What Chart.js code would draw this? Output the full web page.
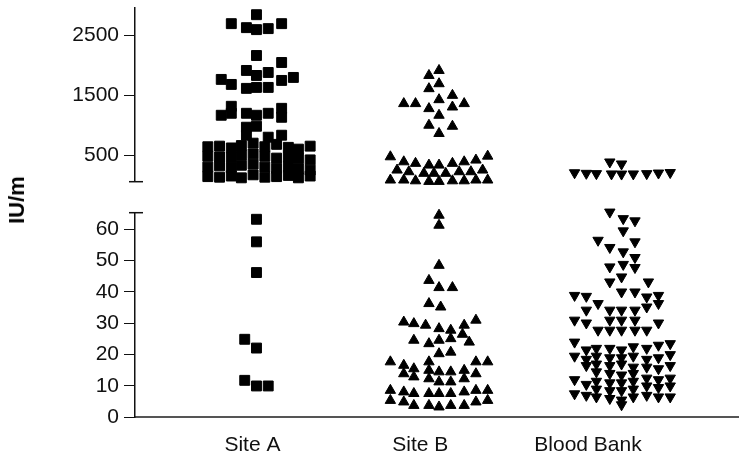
<!DOCTYPE html>
<html>
<head>
<meta charset="utf-8">
<script src="https://cdn.jsdelivr.net/npm/chart.js@4.4.1/dist/chart.umd.min.js"></script>
<style>
  html, body { margin: 0; padding: 0; background: #ffffff; }
  #wrap { position: relative; width: 746px; height: 459px; overflow: hidden; background: #fff; }
  #topBox { position: absolute; left: 0; top: 0; width: 746px; height: 200px; }
  #botBox { position: absolute; left: 0; top: 200px; width: 746px; height: 259px; }
  #ytitle {
    position: absolute; left: 17px; top: 200px;
    transform: translate(-50%, -50%) rotate(-90deg);
    font: bold 22px "Liberation Sans", Arial, Helvetica, sans-serif;
    color: #000; white-space: nowrap;
  }
</style>
</head>
<body>
<div id="wrap">
  <div id="topBox"><canvas id="topChart"></canvas></div>
  <div id="botBox"><canvas id="botChart"></canvas></div>
  <div id="ytitle">IU/m</div>
</div>
<script>
// ---------------- DATA ----------------
const categories = ['Site A', 'Site B', 'Blood Bank'];
const categoryTicks = [1, 2, 3];
// x position of each group's swarm centre (category units)
const groupX = [1.024, 2.112, 3.2];

const upperTicks = [500, 1500, 2500];
const lowerTicks = [0, 10, 20, 30, 40, 50, 60];

// Site A (IU/m) — upper range; jitter in 1/100 category units
const siteA_high = [
  2850, 2700, 2633, 2600, 2617, 2700,
  2167, 2050, 1917, 1883, 1833, 1800, 1750, 1767, 1683, 1617, 1633, 1633,
  1317, 1167, 1200, 1200, 1167, 1200, 1283, 1133, 967, 983, 833, 800, 833,
  640, 480, 300, 140,
  650, 470, 320, 130,
  620, 460, 290, 150,
  660, 500, 330, 120,
  700, 520, 350, 170,
  640, 480, 300, 130,
  680, 450, 280, 140,
  630, 470, 310, 160,
  600, 440, 270, 120,
  650, 420, 250, 150
];
const siteA_high_jit = [
  0, -15, -6, 0, 7, 15,
  0, 15, -6, 7, 0, 22, 15, -21, -15, -6, 0, 7,
  -15, -21, -15, -6, 0, 7, 15, 15, -6, 0, -6, 7, 15,
  -29, -29, -29, -29,
  -22, -22, -22, -22,
  -15, -15, -15, -15,
  -9, -9, -9, -9,
  -2, -2, -2, -2,
  5, 5, 5, 5,
  12, 12, 12, 12,
  19, 19, 19, 19,
  25, 25, 25, 25,
  32, 32, 32, 32
];
// Site A — lower range
const siteA_low = [63.2, 56.0, 46.2, 24.9, 22.1, 11.8, 10.0, 10.0];
const siteA_low_jit = [0, 0, 0, -7, 0, -7, 0, 7];

// Site B — upper range
const siteB_high = [
  1917, 1833, 1695, 1612, 1500, 1428, 1362, 1362, 1278, 1305, 1362, 1167, 1000, 983, 862,
  472, 388, 362, 333, 333, 362, 388, 417, 483,
  250, 222, 195, 195, 195, 222, 222, 250,
  83, 83, 70, 60, 60, 70, 70, 83, 83
];
const siteB_high_jit = [
  0, -6, 0, -6, 8, 0, -21, -14, -6, 8, 15, 0, -6, 8, 0,
  -29, -21, -14, -6, 0, 8, 15, 22, 29,
  -25, -18, -9, -3, 4, 12, 19, 26,
  -29, -21, -14, -6, 0, 8, 15, 22, 29
];
// Site B — lower range
const siteB_low = [
  64.5, 61.3, 48.5, 43.7, 41.4, 41.4, 36.3, 35.2,
  30.4, 29.9, 29.4, 28.3, 27.8, 29.4, 31.0, 26.5,
  24.6, 23.5, 24.6, 25.1, 24.0, 20.3, 20.8,
  17.7, 16.6, 15.5, 17.7, 15.0, 14.5, 14.5, 15.0, 17.7, 17.7,
  13.9, 12.9, 12.3, 11.3, 11.3, 12.3, 13.9,
  8.6, 8.1, 7.6, 7.6, 7.6, 7.6, 8.1, 8.6, 8.6,
  5.4, 4.9, 3.8, 3.8, 3.3, 3.8, 3.8, 4.9, 5.4
];
const siteB_low_jit = [
  0, 0, 0, -6, 0, 8, -6, 1,
  -21, -15, -8, 0, 7, 15, 22, 14,
  -15, -6, 0, 7, 18, 0, 7,
  -29, -21, -15, -6, -6, 0, 7, 15, 22, 29,
  -21, -15, -6, 0, 7, 15, 22,
  -29, -21, -15, -6, 0, 7, 15, 22, 29,
  -29, -21, -15, -6, 0, 7, 15, 22, 29
];

// Blood Bank — upper range
const bank_high = [385, 352, 205, 195, 190, 185, 183, 185, 190, 200, 208];
const bank_high_jit = [-7, 0, -28, -21, -15, -6, 0, 7, 15, 22, 29];
// Blood Bank — lower range
const bank_low = [
  65.5, 63.4, 62.7, 59.5, 56.5, 56.0, 54.2, 52.8, 51.0, 48.0, 48.8, 47.8, 44.8, 43.2, 43.2, 40.0, 40.0,
  38.9, 38.6, 36.3, 34.2, 34.2, 34.2, 34.2, 35.2, 36.3, 38.4, 38.9,
  31.0, 30.1, 31.0, 31.0, 31.0, 30.1,
  27.8, 27.8, 27.8, 27.8, 27.8,
  24.0, 19.5, 12.0, 7.5,
  21.5, 18.5, 16.5, 10.5, 7.0,
  22.0, 19.5, 17.0, 14.5, 11.5, 9.0, 6.5,
  22.0, 19.0, 16.5, 14.0, 11.0, 8.5, 6.0,
  21.5, 19.0, 17.0, 13.5, 11.0, 8.5, 5.5, 4.0,
  22.5, 19.5, 16.0, 14.0, 11.5, 9.0, 6.5,
  22.0, 18.5, 16.0, 12.5, 10.0, 7.0,
  23.0, 19.0, 15.5, 12.0, 9.5, 6.5,
  23.5, 20.0, 16.5, 12.5, 10.0, 6.5
];
const bank_low_jit = [
  -7, 1, 8, 1, -14, 8, -7, 1, 8, -7, 1, 8, 0, -7, 16, 0, 8,
  -28, -21, -14, -21, -7, 0, 8, 15, 22, 15, 22,
  -28, -21, -7, 0, 8, 22,
  -14, -7, 0, 8, 15,
  -28, -28, -28, -28,
  -21, -21, -21, -21, -21,
  -15, -15, -15, -15, -15, -15, -15,
  -7, -7, -7, -7, -7, -7, -7,
  0, 0, 0, 0, 0, 0, 0, 0,
  7, 7, 7, 7, 7, 7, 7,
  15, 15, 15, 15, 15, 15,
  22, 22, 22, 22, 22, 22,
  29, 29, 29, 29, 29, 29
];

// upper / lower axis ranges
const upperRange = [55, 2962];
const lowerRange = [0, 65.3];
const xRange = [0.3, 3.894];

// ---------------- BUILD ----------------
function pts(group, vals, jit) {
  return vals.map((v, i) => ({ x: groupX[group] + jit[i] / 100, y: v }));
}
const FONT = "'Liberation Sans', Arial, Helvetica, sans-serif";
const INK = '#111';

function styleSet(group, data) {
  const base = { data, showLine: false, clip: false, backgroundColor: '#000', borderColor: '#000',
                 pointBorderWidth: 1, pointHoverRadius: 0 };
  if (group === 0) return Object.assign(base, { pointStyle: 'rect', pointRadius: 7 });
  if (group === 1) return Object.assign(base, { pointStyle: 'triangle', pointRadius: 6 });
  return Object.assign(base, { pointStyle: 'triangle', pointRotation: 180, pointRadius: 6 });
}

function yScale(range, ticks) {
  return {
    type: 'linear', min: range[0], max: range[1],
    afterBuildTicks: s => { s.ticks = ticks.map(v => ({ value: v })); },
    afterFit: s => { s.width = 135; s.paddingTop = 0; s.paddingBottom = 0; },
    grid: { drawOnChartArea: false, drawTicks: true, tickLength: 11, color: INK, lineWidth: 1 },
    border: { display: true, color: INK, width: 1.5 },
    ticks: { font: { family: FONT, size: 21 }, color: INK, padding: 5, callback: v => String(v) }
  };
}

const capPlugin = {
  id: 'axisCap',
  afterDraw(chart, args, opts) {
    const y = chart.scales.y;
    const ctx = chart.ctx;
    const px = chart.chartArea.left;
    const py = opts.at === 'min' ? y.getPixelForValue(y.min) : y.getPixelForValue(y.max);
    ctx.save();
    ctx.strokeStyle = INK;
    ctx.lineWidth = 1.5;
    ctx.beginPath();
    ctx.moveTo(px - 6, py);
    ctx.lineTo(px + 8, py);
    ctx.stroke();
    ctx.restore();
  }
};

const common = {
  responsive: true, maintainAspectRatio: false, animation: false, events: [],
};

new Chart(document.getElementById('topChart'), {
  type: 'scatter',
  data: { datasets: [
    styleSet(0, pts(0, siteA_high, siteA_high_jit)),
    styleSet(1, pts(1, siteB_high, siteB_high_jit)),
    styleSet(2, pts(2, bank_high, bank_high_jit))
  ] },
  options: Object.assign({}, common, {
    layout: { padding: { top: 7.3, bottom: 18.3, left: 0, right: 0 } },
    plugins: { legend: { display: false }, tooltip: { enabled: false }, axisCap: { at: 'min' } },
    scales: {
      x: { type: 'linear', min: xRange[0], max: xRange[1], display: false },
      y: yScale(upperRange, upperTicks)
    }
  }),
  plugins: [capPlugin]
});

new Chart(document.getElementById('botChart'), {
  type: 'scatter',
  data: { datasets: [
    styleSet(0, pts(0, siteA_low, siteA_low_jit)),
    styleSet(1, pts(1, siteB_low, siteB_low_jit)),
    styleSet(2, pts(2, bank_low, bank_low_jit))
  ] },
  options: Object.assign({}, common, {
    layout: { padding: { top: 12.7, bottom: 0, left: 0, right: 0 } },
    plugins: { legend: { display: false }, tooltip: { enabled: false }, axisCap: { at: 'max' } },
    scales: {
      x: {
        type: 'linear', min: xRange[0], max: xRange[1],
        afterBuildTicks: s => { s.ticks = categoryTicks.map(v => ({ value: v })); },
        afterFit: s => { s.height = 41.7; s.paddingLeft = 0; s.paddingRight = 0; },
        grid: { display: false, drawTicks: false },
        border: { display: true, color: '#555', width: 2 },
        ticks: { font: { family: FONT, size: 21 }, color: INK, padding: 15, maxRotation: 0, autoSkip: false,
                 callback: v => categories[Math.round(v) - 1] }
      },
      y: yScale(lowerRange, lowerTicks)
    }
  }),
  plugins: [capPlugin]
});
</script>
</body>
</html>
